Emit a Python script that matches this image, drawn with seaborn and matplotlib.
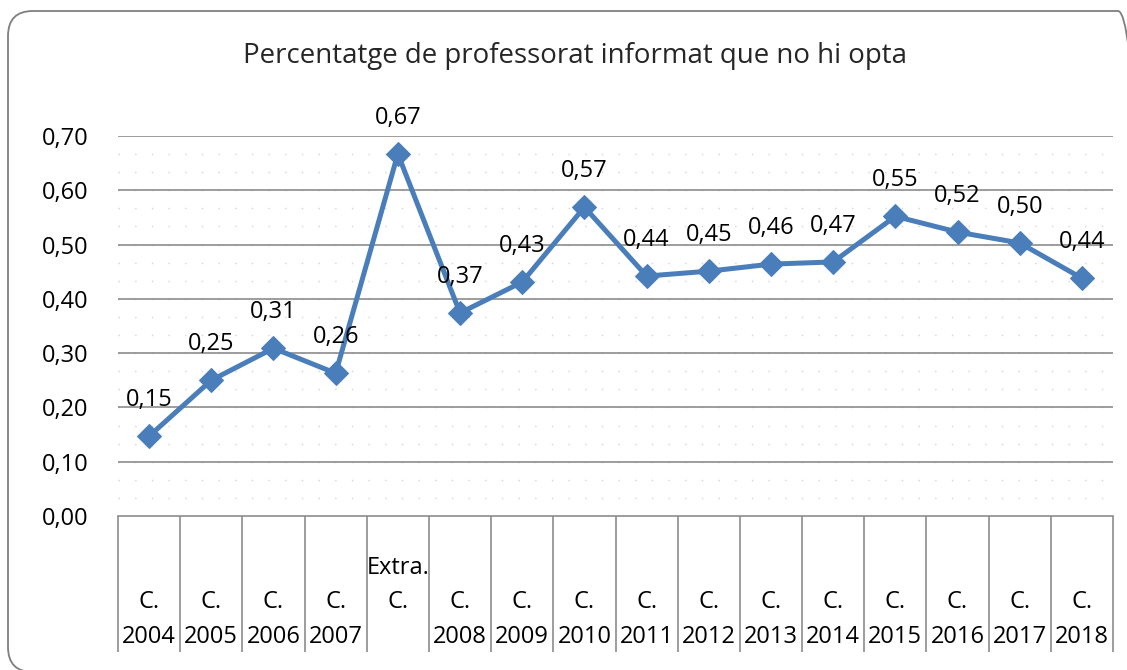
import matplotlib
matplotlib.use("Agg")
import matplotlib.pyplot as plt
import seaborn as sns
import pandas as pd
from matplotlib.patches import FancyBboxPatch

# data
categories = ["\nC.\n2004", "\nC.\n2005", "\nC.\n2006", "\nC.\n2007", "Extra.\nC.\n",
              "\nC.\n2008", "\nC.\n2009", "\nC.\n2010", "\nC.\n2011", "\nC.\n2012",
              "\nC.\n2013", "\nC.\n2014", "\nC.\n2015", "\nC.\n2016", "\nC.\n2017", "\nC.\n2018"]
values = [0.147, 0.250, 0.309, 0.263, 0.667, 0.374, 0.431, 0.569,
          0.442, 0.451, 0.464, 0.468, 0.552, 0.523, 0.503, 0.438]
yticks = [0.0, 0.1, 0.2, 0.3, 0.4, 0.5, 0.6, 0.7]
title = "Percentatge de professorat informat que no hi opta"

df = pd.DataFrame({"pos": range(len(values)), "value": values})

sns.set_theme(style="white")
plt.rcParams["font.family"] = ["Open Sans", "DejaVu Sans"]

blue = "#4a7ebb"
grey = "#8c8c8c"

fig = plt.figure(figsize=(11.27, 6.70), dpi=100)
ax = fig.add_axes([118 / 1127, 154 / 670, 995 / 1127, 380 / 670])

# light dotted background pattern
for y in [i * 0.1 / 3 for i in range(1, 21)]:
    ax.axhline(y, color="#d4d4d4", lw=1.0, ls=(0, (1, 11)), zorder=0)
for y in yticks[1:]:
    ax.axhline(y, color=grey, lw=1.2, zorder=1)

sns.lineplot(data=df, x="pos", y="value", ax=ax, color=blue, lw=3.6,
             marker="D", markersize=12.5, markeredgecolor=blue, zorder=3)

for x, v in zip(df["pos"], df["value"]):
    ax.annotate(f"{v:.2f}".replace(".", ","), (x, v), xytext=(0, 26),
                textcoords="offset points", ha="center", va="center",
                fontsize=17, color="black", zorder=4)

ax.set_xlim(-0.5, len(values) - 0.5)
ax.set_ylim(0, 0.7)
ax.set_yticks(yticks)
ax.set_yticklabels([f"{t:.2f}".replace(".", ",") for t in yticks], fontsize=17)
ax.set_xticks(df["pos"])
ax.set_xticklabels(categories, fontsize=17, linespacing=1.6)
ax.tick_params(axis="both", length=0, colors="black")
ax.tick_params(axis="y", pad=21)
ax.tick_params(axis="x", pad=28.5)
ax.set_xlabel("")
ax.set_ylabel("")

for s in ["top", "right", "left"]:
    ax.spines[s].set_visible(False)
ax.spines["bottom"].set_color(grey)
ax.spines["bottom"].set_linewidth(1.2)

# category box separators below the axis
ax.vlines([p - 0.5 for p in range(len(values) + 1)], -0.358, 0,
          transform=ax.get_xaxis_transform(), color=grey, lw=1.2, clip_on=False)

fig.text(575 / 1127, 1 - 56 / 670, title, ha="center", va="center", fontsize=19.9)

frame = FancyBboxPatch((0.08, -0.02), 11.35, 6.61,
                       boxstyle="round,pad=0,rounding_size=0.25",
                       transform=fig.dpi_scale_trans, fill=False,
                       edgecolor="#7f7f7f", lw=1.3)
fig.patches.append(frame)

fig.savefig("out.png", dpi=100)
plt.close(fig)
